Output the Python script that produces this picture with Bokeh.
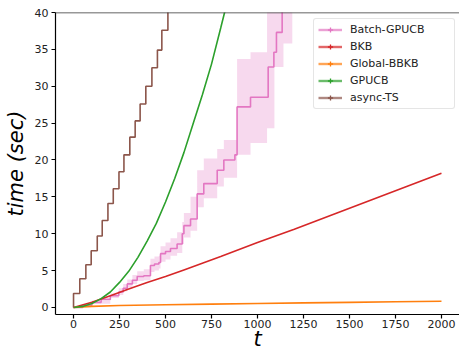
import math
from bokeh.plotting import figure
from bokeh.models import Span, Legend, LegendItem, FixedTicker, Range1d, ColumnDataSource
from bokeh.embed import file_html
from bokeh.resources import INLINE

# ---------------- data ----------------
x_ticks = [0, 250, 500, 750, 1000, 1250, 1500, 1750, 2000]
y_ticks = [0, 5, 10, 15, 20, 25, 30, 35, 40]

series_names = ["Batch-GPUCB", "BKB", "Global-BBKB", "GPUCB", "async-TS"]
series_colors = ["#e377c2", "#d62728", "#ff7f0e", "#2ca02c", "#8c564b"]

# Batch-GPUCB: step mean
bg_t = [0, 50, 100, 150, 200, 246, 270, 292, 320, 346, 382, 418, 440, 464, 473, 500,
        527, 563, 591, 600, 636, 672, 708, 781, 817, 877, 889, 962, 1058, 1089, 1103, 1134]
bg_mean = [0, 0.3, 0.7, 1.1, 1.6, 2.1, 2.6, 3.2, 3.7, 4.2, 4.3, 5.7, 5.9, 6.1, 7.3, 7.6,
           8.0, 8.6, 10.0, 11.1, 12.0, 15.4, 16.8, 18.6, 20.0, 20.7, 27.2, 28.5, 32.6, 34.6, 37.3, 41.0]
# Batch-GPUCB: shaded band
bg_band_t = [0, 100, 200, 246, 270, 292, 320, 346, 382, 418, 440, 464, 473, 500, 527, 563,
             591, 600, 636, 672, 708, 781, 817, 889, 962, 1052, 1092, 1141, 1189]
bg_band_lo = [0, 0.5, 1.3, 1.7, 2.2, 2.7, 3.2, 3.6, 3.7, 4.8, 5.0, 5.3, 6.2, 6.5, 7.0, 7.4,
              8.6, 9.5, 10.4, 13.6, 14.8, 16.4, 17.6, 20.7, 22.3, 24.3, 32.6, 35.8, 35.8]
bg_band_hi = [0, 0.9, 1.9, 2.6, 3.2, 3.8, 4.4, 4.9, 5.2, 6.6, 6.9, 7.0, 8.3, 8.8, 9.4, 10.2,
              11.6, 12.8, 15.0, 18.6, 20.2, 21.5, 22.7, 33.7, 34.6, 41.0, 41.0, 41.0, 41.0]

# BKB
bkb_t = [0, 100, 200, 300, 400, 500, 600, 700, 800, 1000, 1200, 1400, 1600, 1800, 2000]
bkb_y = [0, 0.7, 1.6, 2.5, 3.4, 4.2, 5.1, 6.0, 6.9, 8.8, 10.6, 12.5, 14.4, 16.3, 18.2]

# Global-BBKB
gb_t = [0, 100, 250, 500, 750, 1000, 1250, 1500, 1750, 2000]
gb_y = [0, 0.15, 0.27, 0.37, 0.46, 0.54, 0.63, 0.70, 0.78, 0.85]

# GPUCB
gp_t = [0, 50, 100, 150, 200, 250, 300, 350, 400, 450, 500, 550, 600, 650, 700, 750, 800, 821, 850]
gp_y = [0, 0.15, 0.55, 1.2, 2.1, 3.4, 4.9, 6.8, 9.0, 11.4, 14.3, 17.5, 21.0, 24.9, 28.8, 33.0, 37.9, 40.0, 42.9]

# async-TS (steps)
ts_t = [0, 0, 34, 67, 96, 129, 156, 187, 216, 247, 274, 306, 335, 362, 393, 426, 456, 480, 513]
ts_y = [0, 1.9, 3.9, 5.8, 7.7, 9.7, 11.8, 14.1, 16.1, 18.4, 20.7, 23.1, 25.3, 27.6, 30.0, 32.5, 34.9, 37.6, 40.5]

FONT = "DejaVu Sans"

p = figure(width=459, height=353, output_backend="svg", toolbar_location=None,
           x_range=Range1d(-98, 2098), y_range=Range1d(-0.95, 40),
           min_border_top=12, min_border_right=0, min_border_left=10, min_border_bottom=0)
p.outline_line_color = None
p.grid.visible = False
p.background_fill_color = "white"
p.border_fill_color = "white"

# top spine
p.add_layout(Span(location=40, dimension="width", line_color="#333333", line_width=1.3))

lw = 1.6
c = dict(zip(series_names, series_colors))

p.varea_step(x=bg_band_t, y1=bg_band_lo, y2=bg_band_hi, step_mode="after",
             fill_color=c["Batch-GPUCB"], fill_alpha=0.28)
p.step(x=bg_t, y=bg_mean, mode="after", line_color=c["Batch-GPUCB"], line_width=lw)
p.line(x=bkb_t, y=bkb_y, line_color=c["BKB"], line_width=lw)
p.line(x=gb_t, y=gb_y, line_color=c["Global-BBKB"], line_width=lw)
p.line(x=gp_t, y=gp_y, line_color=c["GPUCB"], line_width=lw)
p.step(x=ts_t, y=ts_y, mode="after", line_color=c["async-TS"], line_width=lw)

# legend handles (line + vertical tick like errorbar handles)
nan = float("nan")
items = []
for name, col in zip(series_names, series_colors):
    src = ColumnDataSource(data=dict(x=[nan], y=[nan]))
    lr = p.line(x="x", y="y", source=src, line_color=col, line_width=2.4, line_alpha=0.7)
    sr = p.scatter(x="x", y="y", source=src, marker="cross", size=9,
                   line_color=col, line_width=1.3)
    items.append(LegendItem(label=name, renderers=[lr, sr]))

legend = Legend(items=items, location=(258, 205))
legend.label_text_font = FONT
legend.label_text_font_size = "11px"
legend.label_text_color = "#222222"
legend.glyph_width = 24
legend.glyph_height = 13
legend.label_height = 13
legend.spacing = 4
legend.padding = 4
legend.margin = 0
legend.label_standoff = 8
legend.label_width = 100
legend.border_line_color = "#cccccc"
legend.border_line_width = 1
legend.border_radius = 3
legend.background_fill_alpha = 0.85
p.add_layout(legend)

# axes
p.xaxis.ticker = FixedTicker(ticks=x_ticks)
p.yaxis.ticker = FixedTicker(ticks=y_ticks)
for ax in (p.xaxis[0], p.yaxis[0]):
    ax.axis_line_color = "black"
    ax.axis_line_width = 1.2
    ax.major_tick_line_color = "black"
    ax.major_tick_line_width = 1.2
    ax.major_tick_out = 4
    ax.major_tick_in = 0
    ax.minor_tick_out = 0
    ax.minor_tick_in = 0
    ax.major_label_text_font = FONT
    ax.major_label_text_font_size = "11px"
    ax.major_label_text_color = "#222222"
    ax.axis_label_text_font = FONT
    ax.axis_label_text_font_style = "italic"
    ax.axis_label_text_font_size = "21px"
    ax.axis_label_text_color = "black"

p.xaxis.major_label_standoff = 1
p.xaxis.axis_label_standoff = -4
p.yaxis.major_label_standoff = 3
p.yaxis.axis_label_standoff = 4

p.xaxis.axis_label = "t"
p.yaxis.axis_label = "time (sec)"

open("out.html", "w").write(file_html(p, INLINE))
